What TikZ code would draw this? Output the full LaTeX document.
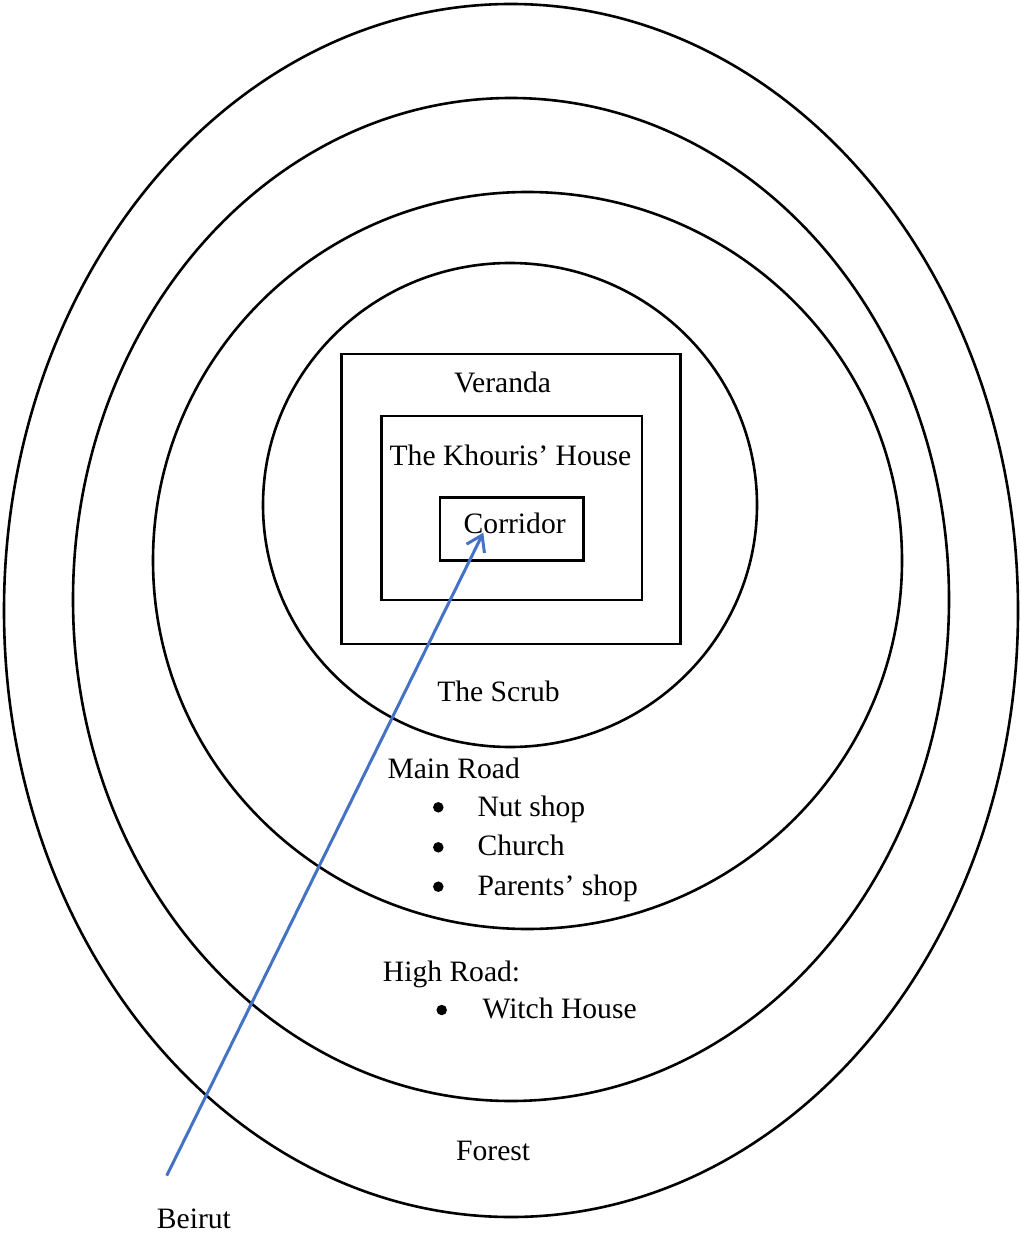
\documentclass[tikz,border=0pt]{standalone}
\usepackage{fontspec}
\setmainfont{Liberation Serif}
\usetikzlibrary{arrows.meta}
\definecolor{arrowblue}{HTML}{4472C4}
\begin{document}
\begin{tikzpicture}[x=1pt,y=-1pt,
  ring/.style={draw=black,line width=2.6pt},
  box/.style={draw=black,line width=2.8pt,inner sep=0pt,outer sep=0pt},
  lbl/.style={inner sep=0pt,font=\fontsize{29.6}{35}\selectfont},
  dot/.style={circle,fill=black,draw=none,inner sep=0pt,minimum size=10.5pt},
  route/.style={draw=arrowblue,line width=3pt,-{Straight Barb[length=15pt,width=20pt]}}]
\useasboundingbox (0,0) rectangle (1020,1238);
% nested rings
\draw[ring] (511,610.5) ellipse [x radius=507pt, y radius=606.5pt];
\draw[ring] (511,599.5) ellipse [x radius=438pt, y radius=501.5pt];
\draw[ring] (527.5,560.5) ellipse [x radius=374.5pt, y radius=368.5pt];
\draw[ring] (510,505) ellipse [x radius=247pt, y radius=242pt];
% boxes
\node[box,minimum width=339pt,minimum height=290pt] (verandabox) at (511.2,499) {};
\node[box,minimum width=260.3pt,minimum height=184pt] (housebox) at (511.85,508) {};
\node[box,minimum width=143.3pt,minimum height=63.4pt] (corridorbox) at (511.65,529) {};
% labels
\node[lbl,anchor=base] (veranda) at (502.5,392.7) {Veranda};
\node[lbl,anchor=base] (house) at (510.5,465) {The Khouris’ House};
\node[lbl,anchor=base] (corridor) at (514.7,533.3) {Corridor};
\node[lbl,anchor=base] (scrub) at (498.5,701) {The Scrub};
\node[lbl,anchor=base west] (mainroad) at (387.3,778.3) {Main Road};
\node[dot] (b1) at (438.3,807.3) {};
\node[lbl,anchor=base west] (nut) at (477.3,816) {Nut shop};
\node[dot] (b2) at (438.3,847.3) {};
\node[lbl,anchor=base west] (church) at (477.3,855.5) {Church};
\node[dot] (b3) at (438.3,886.7) {};
\node[lbl,anchor=base west] (parents) at (477.3,895) {Parents’ shop};
\node[lbl,anchor=base west] (highroad) at (382.7,981.7) {High Road:};
\node[dot] (b4) at (441.7,1010) {};
\node[lbl,anchor=base west] (witch) at (482.3,1018.3) {Witch House};
\node[lbl,anchor=base west] (forest) at (456,1160) {Forest};
\node[lbl,anchor=base west] (beirut) at (156.7,1228.3) {Beirut};
% route
\coordinate (start) at (166.7,1175.7);
\coordinate (tip) at (483.3,532.7);
\draw[route] (start) -- (tip);
\end{tikzpicture}
\end{document}
